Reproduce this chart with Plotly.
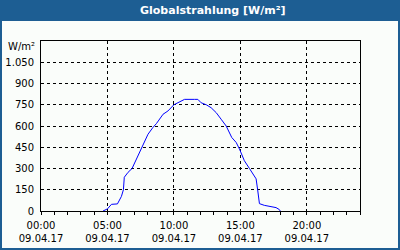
import plotly.graph_objects as go

# Data (time of day on 09.04.2017, global radiation W/m²)
times = ["04:40", "05:00", "05:18", "05:45", "06:03", "06:12", "06:16", "06:33",
         "06:51", "07:11", "07:33", "08:03", "08:25", "08:41", "09:11", "09:33",
         "10:00", "10:26", "10:48", "11:33", "11:48", "12:03", "12:26", "12:48",
         "13:11", "13:33", "13:56", "14:21", "14:41", "14:56", "15:18", "15:41",
         "16:03", "16:11", "16:18", "16:26", "16:48", "17:18", "17:41", "17:56", "18:00"]
values = [0, 15, 47, 50, 103, 150, 238, 273,
          300, 367, 450, 542, 589, 617, 683, 706,
          750, 771, 788, 788, 788, 764, 750, 729,
          694, 648, 600, 519, 484, 437, 355, 300,
          243, 227, 150, 52, 40, 33, 24, 10, 0]
date = "2017-04-09"
x = [f"{date} {t}" for t in times]
ytick_vals = [0, 150, 300, 450, 600, 750, 900, 1050]
title = "Globalstrahlung [W/m²]"
unit = "W/m²"

BLUE = "#1D5E93"
FONT = "DejaVu Sans"

fig = go.Figure(go.Scatter(x=x, y=values, mode="lines",
                           line=dict(color="#0000FF", width=1), hoverinfo="skip"))

L, R, T, B = 41, 40, 41, 39
W, H = 400, 250
pw, ph = W - L - R, H - T - B

def px(v):
    return (v - L) / pw

def py(v):
    return (H - B - v) / ph

fig.update_layout(
    width=W, height=H,
    margin=dict(l=L, r=R, t=T, b=B, autoexpand=False),
    paper_bgcolor="#FAFDFA", plot_bgcolor="#FAFDFA",
    separators=",.",
    showlegend=False,
    font=dict(family=FONT, size=10, color="#000000"),
    shapes=[
        dict(type="rect", xref="paper", yref="paper",
             x0=px(0), x1=px(W), y0=py(21), y1=py(0),
             fillcolor=BLUE, line=dict(width=0), layer="above"),
        dict(type="rect", xref="paper", yref="paper",
             x0=px(1), x1=px(W - 1), y0=py(H - 1), y1=py(1),
             line=dict(color=BLUE, width=2), layer="above"),
    ],
    annotations=[
        dict(text=f"<b>{title}</b>", xref="paper", yref="paper",
             x=px(213), y=py(10.5), xanchor="center", yanchor="middle",
             showarrow=False, font=dict(family=FONT, size=11, color="white")),
        dict(text=unit, xref="paper", yref="paper",
             x=px(37), y=py(46), xanchor="right", yanchor="middle",
             showarrow=False, font=dict(family=FONT, size=10, color="#000000")),
    ],
)

fig.update_xaxes(
    type="date", automargin=False,
    range=[f"{date} 00:00", "2017-04-10 00:00"],
    tick0=f"{date} 00:00", dtick=5 * 3600000,
    tickformat="%H:%M<br>%d.%m.%y",
    ticks="outside", ticklen=3, tickcolor="black",
    minor=dict(dtick=3600000, ticks="outside", ticklen=3, tickcolor="black", showgrid=False),
    showgrid=True, gridcolor="black", gridwidth=1, griddash="3px,3px",
    showline=True, linecolor="black", linewidth=1, mirror=True,
    zeroline=False, ticklabelstandoff=2,
)
fig.update_yaxes(
    automargin=False,
    range=[0, 1200],
    tickvals=ytick_vals, tickformat=",",
    ticks="", showgrid=True, gridcolor="black", gridwidth=1, griddash="3px,3px",
    showline=True, linecolor="black", linewidth=1, mirror=True,
    zeroline=False, ticklabelstandoff=4,
)

fig.write_html("out.html")
